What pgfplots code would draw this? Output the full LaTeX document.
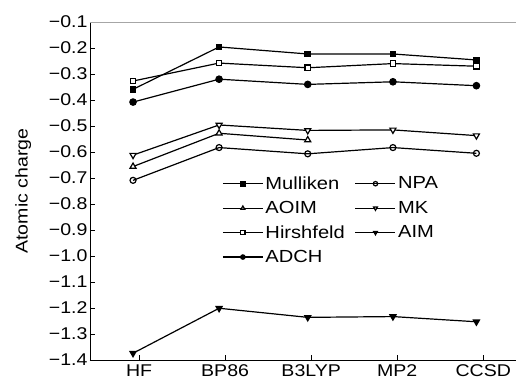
\documentclass[border=0pt]{standalone}
\usepackage{pgfplots}
\pgfplotsset{compat=1.18}
\usepackage{fontspec}
\setmainfont{Liberation Sans}[FakeStretch=1.15]
\newcommand{\myfont}{\fontsize{17}{20}\selectfont}
\newcommand{\legfont}{\fontsize{17.5}{21}\selectfont}
\begin{document}
\begin{tikzpicture}
\begin{axis}[
  name=ax,
  scale only axis,
  width=426pt, height=338pt,
  xmin=-0.57, xmax=4.38,
  ymin=-1.4, ymax=-0.1,
  axis x line*=bottom, axis y line*=left,
  axis line style={line width=0.8pt},
  xtick={0,1,2,3,4},
  xticklabels={HF,BP86,B3LYP,MP2,CCSD},
  ytick={-1.4,-1.3,-1.2,-1.1,-1.0,-0.9,-0.8,-0.7,-0.6,-0.5,-0.4,-0.3,-0.2,-0.1},
  yticklabels={−1.4,−1.3,−1.2,−1.1,−1.0,−0.9,−0.8,−0.7,−0.6,−0.5,−0.4,−0.3,−0.2,−0.1},
  tick label style={font=\myfont},
  xticklabel style={yshift=-1pt},
  yticklabel style={xshift=1pt},
  tick align=inside,
  major tick length=5pt,
  tick style={line width=0.6pt, black},
  ylabel={Atomic charge},
  every axis y label/.style={at={(rel axis cs:-0.157,0.5)}, rotate=90, anchor=center, font=\myfont},
  clip=false,
  every axis plot/.append style={line width=1.2pt, black, mark size=3pt, mark options={solid}},
  legend columns=2,
  legend cell align=left,
  legend style={draw=none, fill=none, font=\legfont, at={(rel axis cs:0.303,0.555)}, anchor=north west,
    /tikz/every even column/.append style={column sep=8pt},
    row sep=6.5pt},
  legend image post style={mark size=2.2pt},
  legend image code/.code={%
    \draw[mark repeat=2,mark phase=2] plot coordinates {(0pt,0pt)(20pt,0pt)(40pt,0pt)};},
]
\addplot[mark=square*, mark size=2.8pt] coordinates {(-0.07,-0.359) (0.93,-0.196) (1.96,-0.223) (2.95,-0.223) (3.92,-0.246)};
\addlegendentry{Mulliken}
\addplot[mark=o, mark options={fill=white}] coordinates {(-0.07,-0.709) (0.93,-0.583) (1.96,-0.607) (2.95,-0.583) (3.92,-0.605)};
\addlegendentry{NPA}
\addplot[mark=triangle*, mark size=3.5pt, mark options={fill=white}] coordinates {(-0.07,-0.656) (0.93,-0.528) (1.96,-0.554)};
\addlegendentry{AOIM}
\addplot[mark=triangle*, mark size=3.5pt, mark options={fill=white, rotate=180}] coordinates {(-0.07,-0.612) (0.93,-0.496) (1.96,-0.517) (2.95,-0.515) (3.92,-0.537)};
\addlegendentry{MK}
\addplot[mark=square*, mark size=2.8pt, mark options={fill=white}] coordinates {(-0.07,-0.327) (0.93,-0.258) (1.96,-0.276) (2.95,-0.260) (3.92,-0.270)};
\addlegendentry{Hirshfeld}
\addplot[mark=triangle*, mark size=3.5pt, mark options={fill=black, rotate=180}] coordinates {(-0.07,-1.374) (0.93,-1.201) (1.96,-1.236) (2.95,-1.233) (3.92,-1.253)};
\addlegendentry{AIM}
\addplot[mark=*, mark size=3.2pt] coordinates {(-0.07,-0.408) (0.93,-0.320) (1.96,-0.340) (2.95,-0.330) (3.92,-0.345)};
\addlegendentry{ADCH}
\draw[gray!70, line width=0.8pt] (rel axis cs:0,1) -- (rel axis cs:1,1);
\end{axis}
\pgfresetboundingbox
\useasboundingbox (ax.south west) ++(-90pt,-25pt) rectangle ++(516pt,385pt);
\end{tikzpicture}
\end{document}
